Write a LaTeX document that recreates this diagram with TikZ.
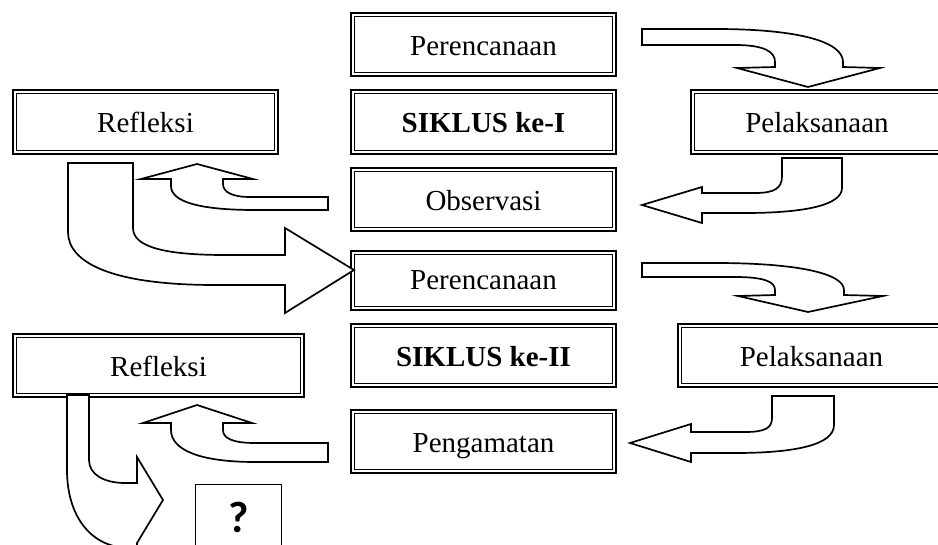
\documentclass[tikz,border=0pt]{standalone}
\usepackage{fontspec}
\setmainfont{Liberation Serif}
\newfontfamily\qfont{Carlito}

\tikzset{
  box/.style={draw, line width=2.4pt, fill=white, inner sep=0pt,
    text height=22pt, text depth=0pt,
    font=\fontsize{29pt}{34pt}\selectfont},
  innerframe/.style={draw, line width=1.2pt},
  blockarrow/.style={draw, fill=white, line width=1.7pt, line join=miter},
  qbox/.style={fill=white, inner sep=0pt,
    text height=35.4pt, text depth=0pt,
    font=\qfont\bfseries\fontsize{44pt}{50pt}\selectfont},
  qline/.style={draw, line width=1.5pt},
}

\begin{document}
\begin{tikzpicture}[x=1pt, y=-1pt]
\useasboundingbox (0,0) rectangle (938,545);
\clip (0,0) rectangle (938,545);

% boxes of the first cycle
\node[box, minimum width=264.6pt, minimum height=62.6pt] (plan1) at (483.5,44.5) {Perencanaan};
\node[box, minimum width=264.6pt, minimum height=63.6pt] (cyc1) at (483.5,122) {\textbf{SIKLUS ke-I}};
\node[box, minimum width=264.6pt, minimum height=62.6pt] (obs) at (483.5,199.5) {Observasi};
\node[box, minimum width=264.6pt, minimum height=63.6pt] (refl1) at (145.5,122) {Refleksi};
\node[box, minimum width=251.6pt, minimum height=63.6pt] (pel1) at (817,122) {Pelaksanaan};

% boxes of the second cycle
\node[box, minimum width=264.6pt, minimum height=58.6pt, text height=18pt] (plan2) at (483.5,280.5) {Perencanaan};
\node[box, minimum width=264.6pt, minimum height=62.6pt] (cyc2) at (483.5,355.5) {\textbf{SIKLUS ke-II}};
\node[box, minimum width=264.6pt, minimum height=62.6pt] (peng) at (483.5,441.5) {Pengamatan};
\node[box, minimum width=290.6pt, minimum height=62.6pt] (refl2) at (158.5,365.5) {Refleksi};
\node[box, minimum width=266.6pt, minimum height=62.6pt] (pel2) at (811.5,355.5) {Pelaksanaan};

% inner line of every double frame
\foreach \n in {plan1,cyc1,obs,refl1,pel1,plan2,cyc2,peng,refl2,pel2}
  \draw[innerframe] ([shift={(4.6,4.6)}]\n.north west) rectangle ([shift={(-4.6,-4.6)}]\n.south east);

% the open end: three sides, the lower one runs off the page
\node[qbox, minimum width=85.5pt, minimum height=59pt] (next) at (238.5,514.3) {?};
\draw[qline] ([yshift=-8pt]next.south west) -- (next.north west) -- (next.north east) -- ([yshift=-8pt]next.south east);

% plan1 -> pel1
\path[blockarrow] (642,29) -- (715,29) .. controls (800,29) and (843,42) .. (843,62)
  -- (843,67) -- (880,68) -- (808,87) -- (737,68) -- (775,67) -- (775,62)
  .. controls (775,52) and (765,45) .. (735,45) -- (642,45) -- cycle;
% pel1 -> obs
\path[blockarrow] (782,158) -- (842,158) -- (842,188) .. controls (842,205) and (805,213) .. (745,213)
  -- (702,213) -- (702,223) -- (642,205) -- (702,187) -- (702,193) -- (755,193)
  .. controls (775,193) and (782,188) .. (782,176) -- cycle;
% obs -> refl1
\path[blockarrow] (328,197) -- (250,197) .. controls (232,197) and (223,192) .. (223,184)
  -- (223,179) -- (253,179) -- (197,164) -- (141,179) -- (171,179) -- (171,186)
  .. controls (171,202) and (200,210) .. (255,210) -- (328,210) -- cycle;
% refl1 -> plan2
\path[blockarrow] (68,163) -- (133,163) -- (133,228) .. controls (133,247) and (165,255) .. (225,255)
  -- (285,255) -- (285,228) -- (354,270) -- (285,313) -- (285,285) -- (215,285)
  .. controls (110,285) and (68,262) .. (68,232) -- cycle;
% plan2 -> pel2
\path[blockarrow] (642,263) -- (715,263) .. controls (800,263) and (844,274) .. (844,290)
  -- (844,295) -- (883,296) -- (808,312) -- (738,296) -- (775,295) -- (775,290)
  .. controls (775,282) and (765,277) .. (735,277) -- (642,277) -- cycle;
% pel2 -> peng
\path[blockarrow] (772,396) -- (834,396) -- (834,425) .. controls (834,445) and (795,453) .. (735,453)
  -- (691,453) -- (691,462) -- (630,443) -- (691,424) -- (691,432) -- (745,432)
  .. controls (765,432) and (772,428) .. (772,418) -- cycle;
% peng -> refl2
\path[blockarrow] (328,443) -- (255,443) .. controls (232,443) and (223,438) .. (223,430)
  -- (223,423) -- (252,423) -- (197,405) -- (143,423) -- (171,423) -- (171,430)
  .. controls (171,450) and (200,462) .. (255,462) -- (328,462) -- cycle;
% refl2 -> next
\path[blockarrow] (67,395) -- (89,395) -- (89,460) .. controls (89,475) and (105,483) .. (125,483)
  -- (137,483) -- (137,457) -- (163,500) -- (137,543) -- (137,548) -- (130,548)
  .. controls (90,548) and (67,515) .. (67,470) -- cycle;
\end{tikzpicture}
\end{document}
